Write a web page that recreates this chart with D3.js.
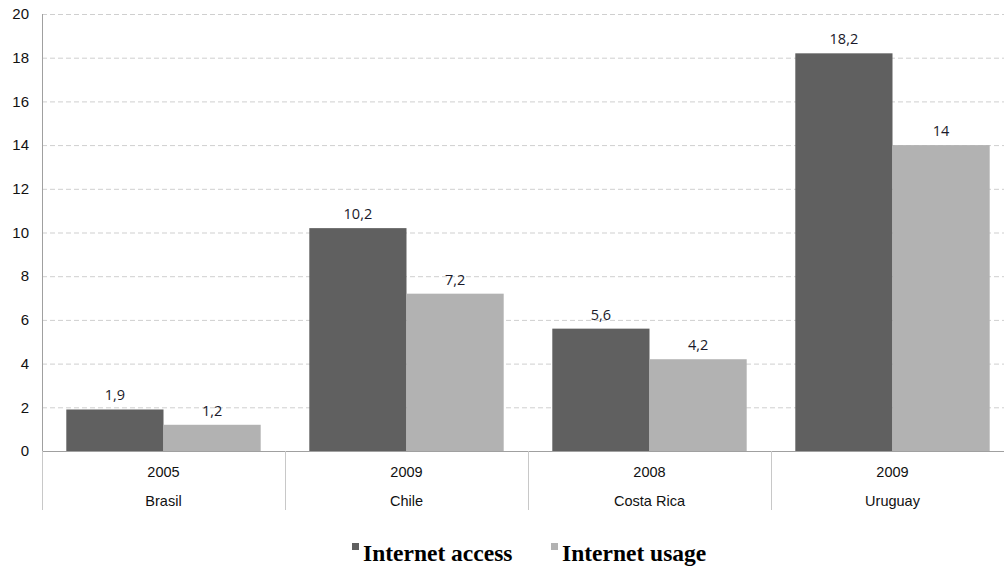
<!DOCTYPE html>
<html>
<head>
<meta charset="utf-8">
<script src="https://cdn.jsdelivr.net/npm/d3@7"></script>
<style>
  body { margin: 0; background: #fff; }
  svg { display: block; }
</style>
</head>
<body>
<div id="chart"></div>
<script>
// chart data
var countries = ["Brasil", "Chile", "Costa Rica", "Uruguay"];
var years = ["2005", "2009", "2008", "2009"];
var access = [1.9, 10.2, 5.6, 18.2];
var usage = [1.2, 7.2, 4.2, 14];
var seriesNames = ["Internet access", "Internet usage"];
var yTicks = [0, 2, 4, 6, 8, 10, 12, 14, 16, 18, 20];

var colors = ["#606060", "#b2b2b2"];

var W = 1004, H = 569;
var margin = { top: 14, right: -10, bottom: 118, left: 42 },
    width = W - margin.left - margin.right,
    height = H - margin.top - margin.bottom;

var svg = d3.select("#chart").append("svg")
    .attr("width", W)
    .attr("height", H);

var g = svg.append("g")
    .attr("transform", "translate(" + margin.left + "," + margin.top + ")");

var x0 = d3.scaleBand()
    .domain(countries)
    .range([0, width])
    .paddingInner(0)
    .paddingOuter(0);

var x1 = d3.scaleBand()
    .domain([0, 1])
    .range([x0.bandwidth() * 0.1, x0.bandwidth() * 0.9]);

var y = d3.scaleLinear()
    .domain([0, 20])
    .range([height, 0]);

// gridlines
g.selectAll("line.grid")
    .data(yTicks.slice(1))
    .enter().append("line")
    .attr("class", "grid")
    .attr("x1", 0)
    .attr("x2", width)
    .attr("y1", function(d) { return y(d) + 0.5; })
    .attr("y2", function(d) { return y(d) + 0.5; })
    .attr("stroke", "#cfcfcf")
    .attr("stroke-width", 1)
    .attr("stroke-dasharray", "5,3");

// y axis labels
g.selectAll("text.ytick")
    .data(yTicks)
    .enter().append("text")
    .attr("class", "ytick")
    .attr("x", -13)
    .attr("y", function(d) { return y(d); })
    .attr("dy", "0.35em")
    .attr("text-anchor", "end")
    .style("font-family", "'Liberation Sans', Arial, sans-serif")
    .style("font-size", "15px")
    .style("fill", "#111")
    .text(function(d) { return d; });

// bars
var rows = countries.map(function(c, i) {
    return { country: c, year: years[i], values: [access[i], usage[i]] };
});

var groups = g.selectAll("g.cat")
    .data(rows)
    .enter().append("g")
    .attr("class", "cat")
    .attr("transform", function(d) { return "translate(" + x0(d.country) + ",0)"; });

groups.selectAll("rect")
    .data(function(d) { return d.values; })
    .enter().append("rect")
    .attr("x", function(d, i) { return x1(i); })
    .attr("y", function(d) { return y(d); })
    .attr("width", x1.bandwidth())
    .attr("height", function(d) { return height - y(d); })
    .attr("fill", function(d, i) { return colors[i]; });

groups.selectAll("text.val")
    .data(function(d) { return d.values; })
    .enter().append("text")
    .attr("class", "val")
    .attr("x", function(d, i) { return x1(i) + x1.bandwidth() / 2; })
    .attr("y", function(d) { return y(d) - 9; })
    .attr("text-anchor", "middle")
    .style("font-family", "'Open Sans', 'Noto Sans', sans-serif")
    .style("font-size", "14.5px")
    .style("fill", "#1a1a2a")
    .text(function(d) { return String(d).replace(".", ","); });

// axis lines
g.append("line")
    .attr("x1", 0.5).attr("x2", 0.5)
    .attr("y1", 0).attr("y2", height)
    .attr("stroke", "#a0a0a0");

g.append("line")
    .attr("x1", 0).attr("x2", width)
    .attr("y1", height + 0.5).attr("y2", height + 0.5)
    .attr("stroke", "#a0a0a0");

// category separators
g.selectAll("line.sep")
    .data(countries)
    .enter().append("line")
    .attr("class", "sep")
    .attr("x1", function(d) { return Math.round(x0(d)) + 0.5; })
    .attr("x2", function(d) { return Math.round(x0(d)) + 0.5; })
    .attr("y1", height)
    .attr("y2", height + 59)
    .attr("stroke", "#c8c8c8");

// category labels
groups.append("text")
    .attr("x", x0.bandwidth() / 2)
    .attr("y", height + 26)
    .attr("text-anchor", "middle")
    .style("font-family", "'Liberation Sans', Arial, sans-serif")
    .style("font-size", "14.5px")
    .style("fill", "#111")
    .text(function(d) { return d.year; });

groups.append("text")
    .attr("x", x0.bandwidth() / 2)
    .attr("y", height + 55)
    .attr("text-anchor", "middle")
    .style("font-family", "'Liberation Sans', Arial, sans-serif")
    .style("font-size", "14.5px")
    .style("fill", "#111")
    .text(function(d) { return d.country; });

// legend
var legendX = [352, 551];
var legend = svg.selectAll("g.legend")
    .data(seriesNames)
    .enter().append("g")
    .attr("class", "legend")
    .attr("transform", function(d, i) { return "translate(" + legendX[i] + ",543)"; });

legend.append("rect")
    .attr("width", 7)
    .attr("height", 7)
    .attr("fill", function(d, i) { return colors[i]; });

legend.append("text")
    .attr("x", 11)
    .attr("y", 18)
    .style("font-family", "'Liberation Serif', 'Times New Roman', serif")
    .style("font-weight", "bold")
    .style("font-size", "23.5px")
    .style("fill", "#000")
    .text(function(d) { return d; });
</script>
</body>
</html>
